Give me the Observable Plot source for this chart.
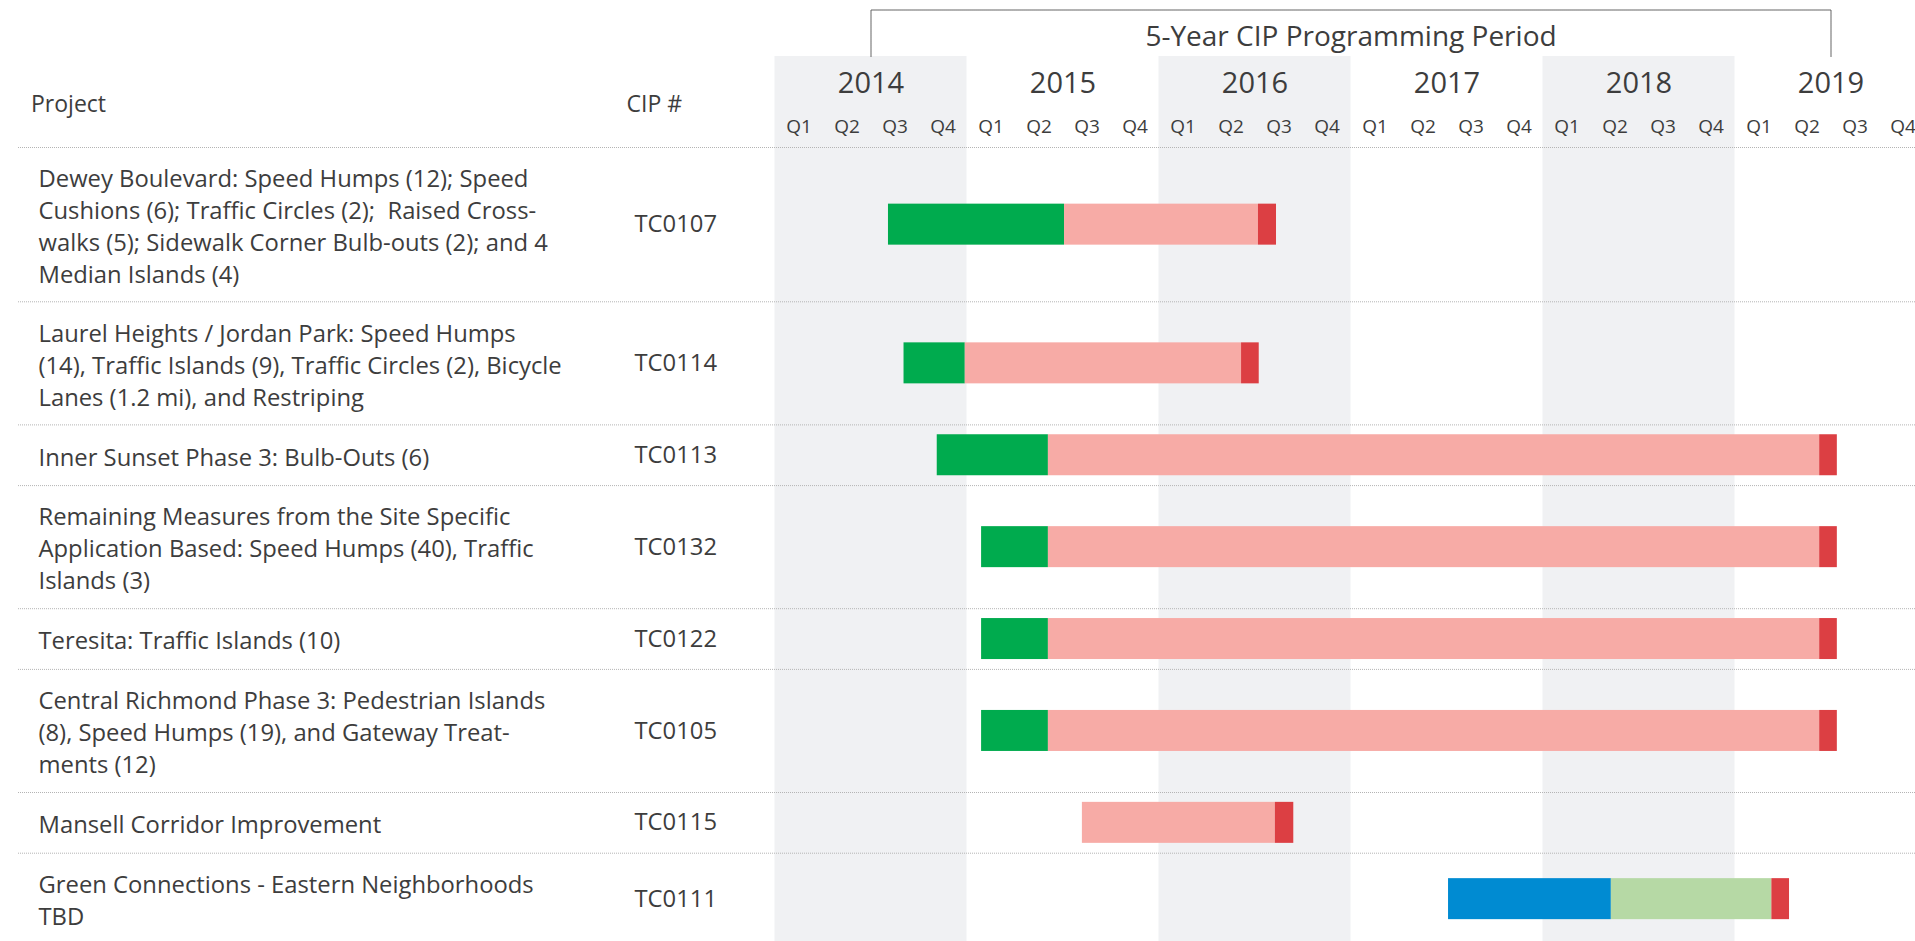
<!DOCTYPE html>
<html>
<head>
<meta charset="utf-8">
<script src="https://cdn.jsdelivr.net/npm/d3@7"></script>
<script src="https://cdn.jsdelivr.net/npm/@observablehq/plot@0.6"></script>
<style>
html, body { margin: 0; padding: 0; background: #fff; overflow: hidden; }
#chart svg { display: block; max-width: none; }
</style>
</head>
<body>
<div id="chart"></div>
<script>
// ---------------- DATA ----------------
const projects = [
  "Dewey Boulevard: Speed Humps (12); Speed\nCushions (6); Traffic Circles (2);  Raised Cross-\nwalks (5); Sidewalk Corner Bulb-outs (2); and 4\nMedian Islands (4)",
  "Laurel Heights / Jordan Park: Speed Humps\n(14), Traffic Islands (9), Traffic Circles (2), Bicycle\nLanes (1.2 mi), and Restriping",
  "Inner Sunset Phase 3: Bulb-Outs (6)",
  "Remaining Measures from the Site Specific\nApplication Based: Speed Humps (40), Traffic\nIslands (3)",
  "Teresita: Traffic Islands (10)",
  "Central Richmond Phase 3: Pedestrian Islands\n(8), Speed Humps (19), and Gateway Treat-\nments (12)",
  "Mansell Corridor Improvement",
  "Green Connections - Eastern Neighborhoods\nTBD"
];
const cipNumbers = ["TC0107", "TC0114", "TC0113", "TC0132", "TC0122", "TC0105", "TC0115", "TC0111"];

const years = [2014, 2015, 2016, 2017, 2018, 2019];
const quarters = ["Q1", "Q2", "Q3", "Q4"];
const shadedYears = [2014, 2016, 2018];
const periodTitle = "5-Year CIP Programming Period";
const programmingPeriod = [2014.5, 2019.5]; // 2014 Q3 .. 2019 Q2

const headerProject = "Project";
const headerCip = "CIP #";

// Phase spans per project, in fractional years (null = phase not shown)
const phaseNames = ["Planning", "Environmental", "Design", "Construction", "Closeout"];
const planning = [null, null, null, null, null, null, null, [2017.508, 2018.356]];
const environmental = [null, null, null, null, null, null, null, [2018.356, 2019.192]];
const design = [
  [2014.591, 2015.508], [2014.672, 2014.991], [2014.845, 2015.424], [2015.076, 2015.424],
  [2015.076, 2015.424], [2015.076, 2015.424], null, null
];
const construction = [
  [2015.508, 2016.518], [2014.991, 2016.430], [2015.424, 2019.441], [2015.424, 2019.441],
  [2015.424, 2019.441], [2015.424, 2019.441], [2015.601, 2016.606], null
];
const closeout = [
  [2016.518, 2016.612], [2016.430, 2016.522], [2019.441, 2019.533], [2019.441, 2019.533],
  [2019.441, 2019.533], [2019.441, 2019.533], [2016.606, 2016.702], [2019.192, 2019.284]
];

// ---------------- STYLE / LAYOUT ----------------
const phaseColors = ["#008bd2", "#b6d9a5", "#00ab4e", "#f7aba6", "#dc3f43"];
const W = 1915, H = 941;
const L = {
  headerBottom: 147, lineStep: 31.2, rowPad: 29.5, textLineHeight: 32, barHeight: 41,
  bandTop: 56, bracketTop: 9.5, titleY: 36.5, yearY: 83, quarterY: 126, headerY: 104,
  projectX: 38, cipX: 634, headerProjectX: 30.5, headerCipX: 626, ruleInset: 18
};
const textColor = "#3d3d3d";
const font = "'Open Sans', 'Noto Sans', sans-serif";
const bodySize = 23.8;

// rows built from line counts
let yCursor = L.headerBottom;
const rows = projects.map((p, i) => {
  const n = p.split("\n").length;
  const h = n * L.lineStep + L.rowPad;
  const r = { i, project: p, cip: cipNumbers[i], y1: yCursor, y2: yCursor + h, ymid: yCursor + h / 2 };
  yCursor += h;
  return r;
});

const phaseArrays = [planning, environmental, design, construction, closeout];
const segments = [];
phaseArrays.forEach((arr, k) => arr.forEach((s, i) => {
  if (s) segments.push({ row: i, phase: phaseNames[k], start: s[0], end: s[1] });
}));

const quarterCells = years.flatMap(y => quarters.map((q, j) => ({ year: y, q, x: y + (j + 0.5) / 4 })));

const bracket = [
  { x: programmingPeriod[0], y: L.bandTop },
  { x: programmingPeriod[0], y: L.bracketTop },
  { x: programmingPeriod[1], y: L.bracketTop },
  { x: programmingPeriod[1], y: L.bandTop }
];

const chart = Plot.plot({
  width: W,
  height: H,
  margin: 0,
  x: { domain: [2014, 2020], range: [774.5, 1926.5], axis: null },
  y: { domain: [0, H], range: [0, H], axis: null },
  color: { domain: phaseNames, range: phaseColors },
  style: { fontFamily: font, background: "#fff", color: textColor, overflow: "hidden" },
  marks: [
    Plot.rect(shadedYears, { x1: d => d, x2: d => d + 1, y1: () => L.bandTop, y2: () => H, fill: "#f0f1f3" }),
    Plot.ruleY(rows, { y: "y1", stroke: "#b4b4b4", strokeWidth: 1, strokeDasharray: "1,1", insetLeft: L.ruleInset }),
    Plot.line(bracket, { x: "x", y: "y", stroke: "#555", strokeWidth: 1, strokeDasharray: "1,1", curve: "linear" }),
    Plot.rect(segments, {
      x1: "start", x2: "end",
      y1: d => rows[d.row].ymid - L.barHeight / 2,
      y2: d => rows[d.row].ymid + L.barHeight / 2,
      fill: "phase"
    }),
    Plot.text(rows, {
      y: "ymid", text: "project", frameAnchor: "left", dx: L.projectX, textAnchor: "start",
      lineAnchor: "middle", fontSize: bodySize, lineHeight: L.textLineHeight / bodySize, fill: textColor
    }),
    Plot.text(rows, {
      y: "ymid", text: "cip", frameAnchor: "left", dx: L.cipX, textAnchor: "start",
      lineAnchor: "middle", fontSize: bodySize, fill: textColor
    }),
    Plot.text([headerProject], { y: () => L.headerY, text: d => d, frameAnchor: "left", dx: L.headerProjectX, textAnchor: "start", fontSize: 23, fill: textColor }),
    Plot.text([headerCip], { y: () => L.headerY, text: d => d, frameAnchor: "left", dx: L.headerCipX, textAnchor: "start", fontSize: 23, fill: textColor }),
    Plot.text([periodTitle], { x: () => (programmingPeriod[0] + programmingPeriod[1]) / 2, y: () => L.titleY, text: d => d, fontSize: 28, fill: textColor }),
    Plot.text(years, { x: d => d + 0.5, y: () => L.yearY, text: d => String(d), fontSize: 29, fill: textColor }),
    Plot.text(quarterCells, { x: "x", y: () => L.quarterY, text: "q", fontSize: 19, fill: textColor })
  ]
});
document.getElementById("chart").appendChild(chart);
</script>
</body>
</html>
